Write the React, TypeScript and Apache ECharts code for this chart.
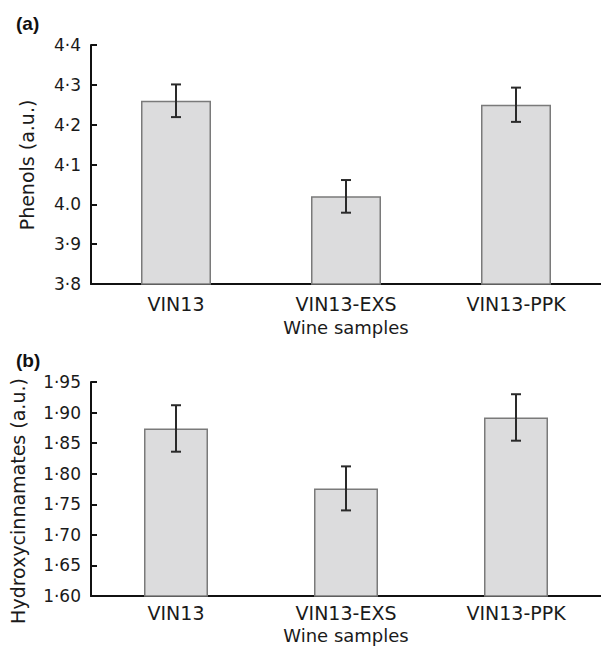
import React, { useEffect, useRef } from "react";
import * as echarts from "echarts";

const categories = ["VIN13", "VIN13-EXS", "VIN13-PPK"];

const phenolValues = [4.26, 4.02, 4.25];
const phenolErrors = [0.041, 0.041, 0.043];
const phenolTickLabels = ["3·8", "3·9", "4.0", "4·1", "4·2", "4·3", "4·4"];

const hydroxValues = [1.874, 1.776, 1.892];
const hydroxErrors = [0.038, 0.036, 0.038];
const hydroxTickLabels = ["1·60", "1·65", "1·70", "1·75", "1·80", "1·85", "1·90", "1·95"];

const FONT = "DejaVu Sans";

function errorData(values: number[], errs: number[]) {
  return values.map((v, i) => [i, v - errs[i], v + errs[i]]);
}

const renderError = (params: any, api: any) => {
  const i = api.value(0);
  const lo = api.coord([i, api.value(1)]);
  const hi = api.coord([i, api.value(2)]);
  const hw = 5;
  const style = { stroke: "#2a2a2a", lineWidth: 2 };
  return {
    type: "group",
    children: [
      { type: "line", shape: { x1: hi[0], y1: hi[1], x2: lo[0], y2: lo[1] }, style },
      { type: "line", shape: { x1: hi[0] - hw, y1: hi[1], x2: hi[0] + hw, y2: hi[1] }, style },
      { type: "line", shape: { x1: lo[0] - hw, y1: lo[1], x2: lo[0] + hw, y2: lo[1] }, style },
    ],
  };
};

export default function App() {
  const ref = useRef<HTMLDivElement>(null);
  useEffect(() => {
    if (!ref.current) return;
    const chart = echarts.init(ref.current, null, { renderer: "svg" });
    const axisLine = { show: true, lineStyle: { color: "#111", width: 2 } };
    const mkX = (gridIndex: number, margin: number, nameGap: number) => ({
      type: "category" as const,
      gridIndex,
      data: categories,
      axisLine,
      axisTick: { show: false },
      axisLabel: { color: "#1a1a1a", fontFamily: FONT, fontSize: 19, lineHeight: 19, margin },
      name: "Wine samples",
      nameLocation: "middle" as const,
      nameGap,
      nameTextStyle: { color: "#1a1a1a", fontFamily: FONT, fontSize: 18, lineHeight: 18 },
    });
    const mkY = (gridIndex: number, min: number, max: number, interval: number, labels: string[]) => ({
      type: "value" as const,
      gridIndex,
      min,
      max,
      interval,
      axisLine,
      axisTick: { show: true, inside: true, length: 6, lineStyle: { color: "#111", width: 2 } },
      splitLine: { show: false },
      axisLabel: {
        color: "#1a1a1a",
        fontFamily: FONT,
        fontSize: 17,
        margin: 10,
        formatter: (v: number) => labels[Math.round((v - min) / interval)] ?? "",
      },
    });
    const barStyle = { color: "#dcdcdd", borderColor: "#7a7a7a", borderWidth: 1.5 };
    chart.setOption({
      animation: false,
      backgroundColor: "#ffffff",
      grid: [
        { left: 91, top: 45, width: 512, height: 239 },
        { left: 91, top: 382, width: 512, height: 214 },
      ],
      xAxis: [mkX(0, 10, 34), mkX(1, 7, 30)],
      yAxis: [
        mkY(0, 3.8, 4.4, 0.1, phenolTickLabels),
        mkY(1, 1.6, 1.95, 0.05, hydroxTickLabels),
      ],
      series: [
        { type: "bar", xAxisIndex: 0, yAxisIndex: 0, data: phenolValues, barWidth: 70, itemStyle: barStyle },
        { type: "custom", xAxisIndex: 0, yAxisIndex: 0, data: errorData(phenolValues, phenolErrors), renderItem: renderError, z: 5 },
        { type: "bar", xAxisIndex: 1, yAxisIndex: 1, data: hydroxValues, barWidth: 64, itemStyle: barStyle },
        { type: "custom", xAxisIndex: 1, yAxisIndex: 1, data: errorData(hydroxValues, hydroxErrors), renderItem: renderError, z: 5 },
      ],
      graphic: [
        { type: "text", left: 16, top: 14, style: { text: "(a)", font: "bold 19px 'Liberation Sans'", fill: "#111" } },
        { type: "text", left: 16, top: 351, style: { text: "(b)", font: "bold 19px 'Liberation Sans'", fill: "#111" } },
        {
          type: "text", x: 27, y: 165, rotation: Math.PI / 2,
          style: { text: "Phenols (a.u.)", font: `19px '${FONT}'`, fill: "#1a1a1a", align: "center", verticalAlign: "middle" },
        },
        {
          type: "text", x: 18, y: 501, rotation: Math.PI / 2,
          style: { text: "Hydroxycinnamates (a.u.)", font: `19px '${FONT}'`, fill: "#1a1a1a", align: "center", verticalAlign: "middle" },
        },
      ],
    });
    return () => chart.dispose();
  }, []);
  return <div ref={ref} style={{ position: "absolute", left: 0, top: 0, width: 601, height: 646 }} />;
}
